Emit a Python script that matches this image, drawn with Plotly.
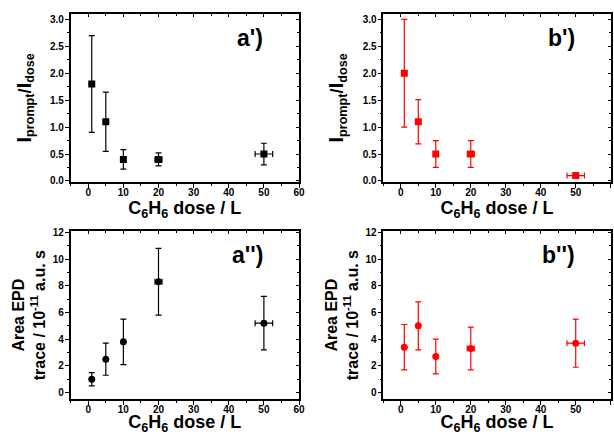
import plotly.graph_objects as go

dose = [1, 5, 10, 20, 50]
dose_err = [0, 0, 0, 1, 2.5]

# a') / b') prompt ratio
ratio_a = [1.8, 1.1, 0.4, 0.4, 0.5]
ratio_a_err = [0.9, 0.55, 0.18, 0.12, 0.2]
ratio_b = [2.0, 1.1, 0.5, 0.5, 0.1]
ratio_b_err = [1.0, 0.41, 0.25, 0.25, 0.02]

# a'') / b'') area EPD trace (1e-11 a.u. s)
area_a = [1.0, 2.5, 3.8, 8.3, 5.2]
area_a_err = [0.5, 1.2, 1.7, 2.5, 2.0]
area_b = [3.4, 5.0, 2.7, 3.3, 3.7]
area_b_err = [1.7, 1.8, 1.3, 1.6, 1.8]

labels = ["a')", "b')", "a'')", "b'')"]
FONT = "Liberation Sans, Arial, sans-serif"

fig = go.Figure()

panels = [
    (ratio_a, ratio_a_err, "black", "square", 1),
    (ratio_b, ratio_b_err, "#ff0000", "square", 2),
    (area_a, area_a_err, "black", "circle", 3),
    (area_b, area_b_err, "#ff0000", "circle", 4),
]

for ys, errs, col, sym, i in panels:
    sfx = "" if i == 1 else str(i)
    fig.add_trace(go.Scatter(
        x=dose, y=ys, mode="markers",
        marker=dict(symbol=sym, size=7, color=col),
        error_y=dict(type="data", array=errs, color=col, thickness=1.2, width=3),
        error_x=dict(type="data", array=dose_err, color=col, thickness=1.2, width=3),
        xaxis="x" + sfx, yaxis="y" + sfx, showlegend=False,
    ))
    # dummy trace so the top/right tick axes get drawn
    fig.add_trace(go.Scatter(x=[None], y=[None], xaxis="x%d" % (i + 4),
                             yaxis="y%d" % (i + 4), showlegend=False, hoverinfo="skip"))

xdom = [[0.1151, 0.4870], [0.6243, 0.9946]]
ydom = [[0.5816, 0.9678], [0.0821, 0.4690]]

tickfont = dict(family=FONT, size=10, color="black", weight="bold")
xtitle = dict(text="<b>C<sub>6</sub>H<sub>6</sub> dose / L</b>",
              font=dict(family=FONT, size=18, color="black"), standoff=0)
ytitle_top = dict(text="<b><span style='font-size:21px'>I</span><sub>prompt</sub>/"
                       "<span style='font-size:21px'>I</span><sub>dose</sub></b>",
                  font=dict(family=FONT, size=18, color="black"), standoff=14)
ytitle_bot = dict(text="<b>Area EPD<br>trace / 10<sup>-11</sup> a.u. s</b>",
                  font=dict(family=FONT, size=16, color="black"), standoff=3)

layout = dict(
    width=614, height=435, paper_bgcolor="white", plot_bgcolor="white",
    margin=dict(l=0, r=0, t=0, b=0), font=dict(family=FONT),
)

for i in range(1, 5):
    sfx = "" if i == 1 else str(i)
    col = (i - 1) % 2
    row = (i - 1) // 2
    top = row == 0
    yr = [-0.02, 3.1] if top else [-0.5, 12.1]
    ydt = 0.5 if top else 2
    layout["xaxis" + sfx] = dict(
        domain=xdom[col], anchor="y" + sfx, range=[-5, 60], dtick=10, tick0=0,
        showgrid=False, zeroline=False, showline=True, linecolor="black", linewidth=1.5,
        mirror=True, ticks="outside", ticklen=4, tickwidth=1.2, tickcolor="black",
        minor=dict(ticks="outside", ticklen=2, dtick=5, tickcolor="black", tickwidth=1),
        tickfont=tickfont, ticklabelstandoff=-4, title=xtitle, automargin=False,
    )
    layout["yaxis" + sfx] = dict(
        domain=ydom[row], anchor="x" + sfx, range=yr, dtick=ydt, tick0=0,
        showgrid=False, zeroline=False, showline=True, linecolor="black", linewidth=1.5,
        mirror=True, ticks="outside", ticklen=4, tickwidth=1.2, tickcolor="black",
        minor=dict(ticks="outside", ticklen=2, dtick=ydt / 2, tickcolor="black", tickwidth=1),
        tickfont=tickfont, ticklabelstandoff=-1, title=ytitle_top if top else ytitle_bot,
        tickformat=".1f" if top else "d", automargin=False,
    )
    # inward ticks on the top and right edges
    layout["xaxis%d" % (i + 4)] = dict(
        overlaying="x" + sfx, side="top", anchor="y%d" % (i + 4), range=[-5, 60],
        dtick=10, tick0=0, showgrid=False, zeroline=False, showline=False,
        ticks="inside", ticklen=3, tickcolor="black", showticklabels=False,
        minor=dict(ticks="inside", ticklen=2, dtick=5, tickcolor="black"),
        automargin=False,
    )
    layout["yaxis%d" % (i + 4)] = dict(
        overlaying="y" + sfx, side="right", anchor="x%d" % (i + 4), range=yr,
        dtick=ydt, tick0=0, showgrid=False, zeroline=False, showline=False,
        ticks="inside", ticklen=3, tickcolor="black", showticklabels=False,
        minor=dict(ticks="inside", ticklen=2, dtick=ydt / 2, tickcolor="black"),
        automargin=False,
    )

fig.update_layout(**layout)

for i, lab in enumerate(labels, start=1):
    sfx = "" if i == 1 else str(i)
    fig.add_annotation(
        text="<b>%s</b>" % lab, xref="x%s domain" % sfx, yref="y%s domain" % sfx,
        x=0.85, y=0.86, xanchor="right", yanchor="middle", showarrow=False,
        font=dict(family=FONT, size=23, color="black"),
    )

# drop the default 8px body margin so the figure sits at the page corner
fig.write_html("out.html", config={"displayModeBar": False},
               post_script="document.body.style.margin='0';")
